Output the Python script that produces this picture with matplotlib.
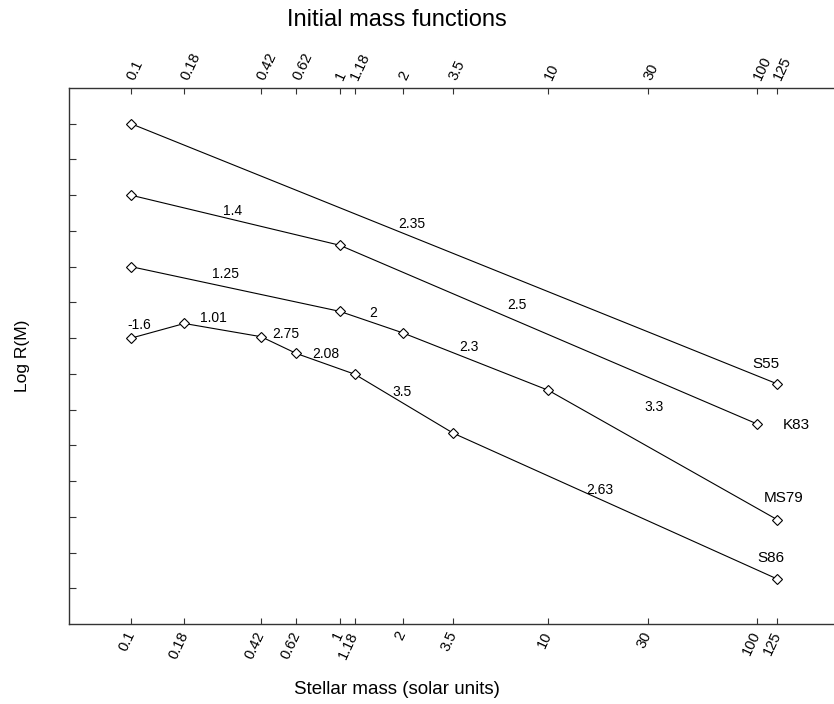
import numpy as np
import matplotlib.pyplot as plt

plt.rcParams['font.family'] = ['Liberation Sans', 'DejaVu Sans']

# stellar masses (solar units) and Log R(M)
s55_m = [0.1, 125]
s55_r = [0.0, -7.28]
k83_m = [0.1, 1, 100]
k83_r = [-2.0, -3.4, -8.4]
ms79_m = [0.1, 1, 2, 10, 125]
ms79_r = [-4.0, -5.25, -5.85, -7.46, -11.08]
s86_m = [0.1, 0.18, 0.42, 0.62, 1.18, 3.5, 125]
s86_r = [-6.0, -5.59, -5.96, -6.43, -7.01, -8.66, -12.74]

# slope labels: (text, mass, log R)
slope_text = ['2.35', '1.4', '2.5', '1.25', '2', '2.3', '3.3',
              '-1.6', '1.01', '2.75', '2.08', '3.5', '2.63']
slope_m = [2.22, 0.305, 7.08, 0.285, 1.45, 4.17, 32.1,
           0.110, 0.247, 0.553, 0.861, 1.99, 17.7]
slope_r = [-2.80, -2.44, -5.07, -4.20, -5.29, -6.25, -7.93,
           -5.63, -5.43, -5.88, -6.44, -7.51, -10.25]

# curve names
name_text = ['S55', 'K83', 'MS79', 'S86']
name_m = [110.7, 154, 133.6, 117]
name_r = [-6.72, -8.43, -10.48, -12.16]

mass_ticks = [0.1, 0.18, 0.42, 0.62, 1, 1.18, 2, 3.5, 10, 30, 100, 125]
tick_labels = ['0.1', '0.18', '0.42', '0.62', '1', '1.18', '2', '3.5',
               '10', '30', '100', '125']

W, H = 834, 704
fig = plt.figure(figsize=(W / 100, H / 100), dpi=100)
ax = fig.add_axes([69 / W, (H - 624) / H, (W - 69) / W, (624 - 88) / H])

for m, r in [(s55_m, s55_r), (k83_m, k83_r), (ms79_m, ms79_r), (s86_m, s86_r)]:
    ax.plot(m, r, color='black', linewidth=0.8, marker='D', markersize=5,
            markerfacecolor='white', markeredgecolor='black', markeredgewidth=0.8)

for t, m, r in zip(slope_text, slope_m, slope_r):
    ax.text(m, r, t, fontsize=10, ha='center', va='center')
for t, m, r in zip(name_text, name_m, name_r):
    ax.text(m, r, t, fontsize=11, ha='center', va='center')

ax.set_xscale('log')
ax.set_xlim(0.0504, 234)
ax.set_ylim(-14, 1)

ax.set_xticks(mass_ticks)
ax.set_xticklabels(tick_labels)
ax.xaxis.set_minor_locator(plt.NullLocator())
ax.set_yticks(np.arange(-13, 1, 1))
ax.set_yticklabels([])

ax.tick_params(axis='x', which='major', direction='in', length=4, width=0.8,
               top=True, labeltop=True, bottom=True, labelbottom=True,
               labelsize=10.5, color='#333333', pad=6)
ax.tick_params(axis='y', direction='in', length=5, width=0.8, color='#333333')

for tick in ax.xaxis.get_major_ticks():
    tick.label1.set_rotation(65)
    tick.label1.set_rotation_mode('anchor')
    tick.label1.set_ha('right')
    tick.label1.set_va('center')
    tick.label2.set_rotation(65)
    tick.label2.set_rotation_mode('anchor')
    tick.label2.set_ha('left')
    tick.label2.set_va('center')

ax.spines['right'].set_visible(False)
for s in ['left', 'top', 'bottom']:
    ax.spines[s].set_color('#333333')
    ax.spines[s].set_linewidth(1.0)

fig.text(397 / W, 1 - 20 / H, 'Initial mass functions', fontsize=17,
         ha='center', va='center')
fig.text(397 / W, 1 - 690 / H, 'Stellar mass (solar units)', fontsize=13.5,
         ha='center', va='center')
fig.text(22 / W, 1 - 356 / H, 'Log R(M)', fontsize=12.5, rotation=90,
         ha='center', va='center')

fig.savefig('out.png', dpi=100)
